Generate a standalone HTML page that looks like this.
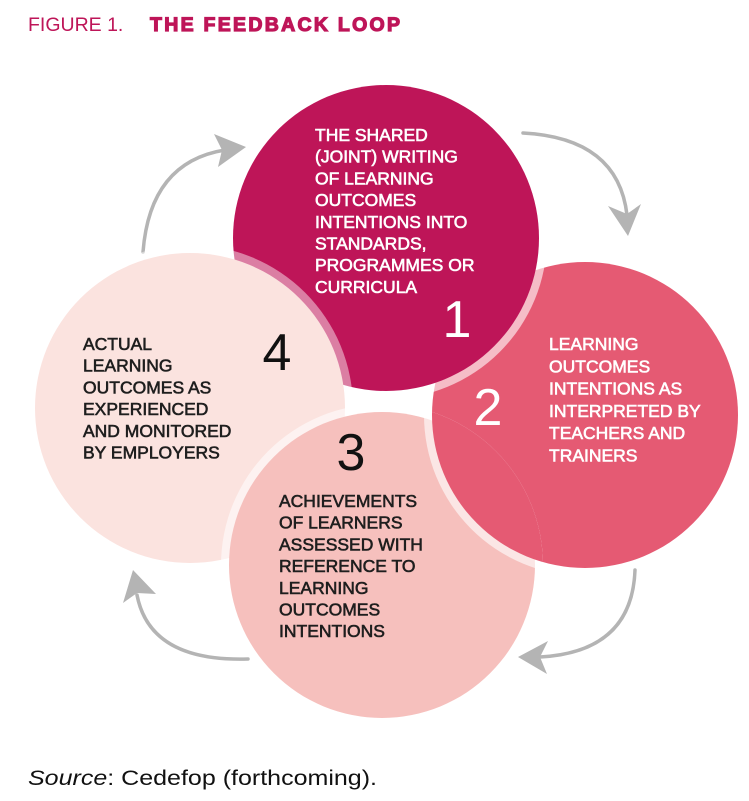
<!DOCTYPE html>
<html><head><meta charset="utf-8"><style>
html,body{margin:0;padding:0;background:#fff;}
svg{display:block;}
text{font-family:"Liberation Sans",Arial,sans-serif;}
.w{fill:#fff;stroke:#fff;stroke-width:0.6;font-size:17.5px;}
.d{fill:#1e1e1e;stroke:#1e1e1e;stroke-width:0.6;font-size:17.5px;}
.a{fill:none;stroke:#b4b4b4;stroke-width:3.5;stroke-linecap:round;}
.h{fill:#b4b4b4;}
</style></head><body>
<svg width="749" height="801" viewBox="0 0 749 801" xmlns="http://www.w3.org/2000/svg">
<defs>
<clipPath id="c3"><circle cx="382" cy="565" r="161"/></clipPath>
</defs>
<text x="28" y="31" font-size="19.5" fill="#be1558">FIGURE 1.</text>
<text x="150" y="31" font-size="19.5" font-weight="bold" fill="#be1558" stroke="#be1558" stroke-width="1.2" textLength="250" lengthAdjust="spacing">THE FEEDBACK LOOP</text>

<!-- arrows -->
<path class="a" d="M143,252 Q150,162 225,150"/>
<path class="h" d="M246,147 L214,134 L222,150 L218,167 Z"/>
<path class="a" d="M523,133 Q618,138 627,215"/>
<path class="h" d="M628,236 L608,206 L627,214 L641,204 Z"/>
<path class="a" d="M635,570 Q632,652 540,657"/>
<path class="h" d="M518,657 L548,641 L540,657 L547,674 Z"/>
<path class="a" d="M248,659 Q150,662 137,595"/>
<path class="h" d="M133,570 L123,603 L137,593 L156,594 Z"/>

<!-- circles -->
<circle cx="585" cy="415" r="153" fill="#e55a73"/>
<circle cx="386" cy="238" r="161" fill="#fff" fill-opacity="0.6"/>
<circle cx="386" cy="238" r="153" fill="#be1558"/>
<circle cx="190" cy="408" r="163" fill="#fff" fill-opacity="0.45"/>
<circle cx="190" cy="408" r="155" fill="#fbe3df"/>
<circle cx="382" cy="565" r="161" fill="#fff" fill-opacity="0.55"/>
<circle cx="382" cy="565" r="153" fill="#f6c0bd"/>
<g clip-path="url(#c3)">
<circle cx="585" cy="415" r="161" fill="#fff" fill-opacity="0.6"/>
<circle cx="585" cy="415" r="153" fill="#e55a73"/>
</g>

<!-- circle 1 text -->
<g class="w">
<text x="315" y="141">THE SHARED</text>
<text x="315" y="162.7">(JOINT) WRITING</text>
<text x="315" y="184.4">OF LEARNING</text>
<text x="315" y="206.1">OUTCOMES</text>
<text x="315" y="227.8">INTENTIONS INTO</text>
<text x="315" y="249.5">STANDARDS,</text>
<text x="315" y="271.2">PROGRAMMES OR</text>
<text x="315" y="292.9">CURRICULA</text>
</g>
<text x="457" y="337" font-size="52" fill="#fff" text-anchor="middle">1</text>

<!-- circle 2 text -->
<g class="w">
<text x="549" y="350">LEARNING</text>
<text x="549" y="372.3">OUTCOMES</text>
<text x="549" y="394.6">INTENTIONS AS</text>
<text x="549" y="416.9">INTERPRETED BY</text>
<text x="549" y="439.2">TEACHERS AND</text>
<text x="549" y="461.5">TRAINERS</text>
</g>
<text x="488" y="425" font-size="52" fill="#fff" text-anchor="middle">2</text>

<!-- circle 4 text -->
<g class="d">
<text x="83" y="350">ACTUAL</text>
<text x="83" y="371.7">LEARNING</text>
<text x="83" y="393.4">OUTCOMES AS</text>
<text x="83" y="415.1">EXPERIENCED</text>
<text x="83" y="436.8">AND MONITORED</text>
<text x="83" y="458.5">BY EMPLOYERS</text>
</g>
<text x="277" y="370" font-size="52" fill="#111" text-anchor="middle">4</text>

<!-- circle 3 text -->
<g class="d">
<text x="279" y="507">ACHIEVEMENTS</text>
<text x="279" y="528.7">OF LEARNERS</text>
<text x="279" y="550.4">ASSESSED WITH</text>
<text x="279" y="572.1">REFERENCE TO</text>
<text x="279" y="593.8">LEARNING</text>
<text x="279" y="615.5">OUTCOMES</text>
<text x="279" y="637.2">INTENTIONS</text>
</g>
<text x="351" y="470" font-size="52" fill="#111" text-anchor="middle">3</text>

<text x="28" y="785" font-size="21" fill="#111" textLength="349" lengthAdjust="spacingAndGlyphs"><tspan font-style="italic">Source</tspan>: Cedefop (forthcoming).</text>
</svg>
</body></html>
